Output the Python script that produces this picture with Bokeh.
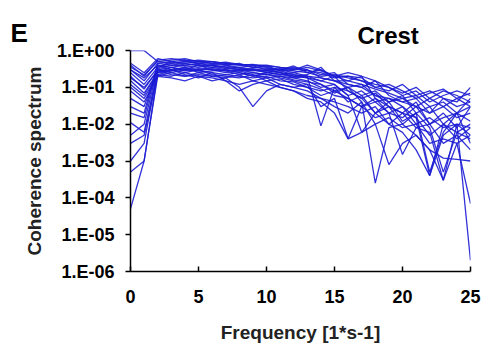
from bokeh.plotting import figure
from bokeh.models import Range1d, FixedTicker, CustomJSTickFormatter, Label, ColumnDataSource
from bokeh.embed import file_html
from bokeh.resources import INLINE

# Frequency points (1/s)
freq = list(range(26))
x_ticks = [0, 5, 10, 15, 20, 25]
y_ticks = [1e-6, 1e-5, 1e-4, 1e-3, 1e-2, 1e-1, 1.0]

# Coherence spectra, one list per recording
s01 = [1.0, 1.0, 0.5, 0.45, 0.5, 0.55, 0.5, 0.45, 0.42, 0.4, 0.38, 0.35, 0.3, 0.35, 0.28, 0.2, 0.15, 0.12, 0.09, 0.07, 0.05, 0.06, 0.03, 0.04, 0.02, 0.03]
s02 = [0.4, 0.2, 0.55, 0.6, 0.55, 0.5, 0.5, 0.45, 0.4, 0.42, 0.35, 0.3, 0.38, 0.25, 0.3, 0.2, 0.2, 0.18, 0.1, 0.08, 0.12, 0.06, 0.08, 0.05, 0.04, 0.1]
s03 = [0.3, 0.15, 0.45, 0.4, 0.45, 0.38, 0.4, 0.35, 0.3, 0.32, 0.28, 0.25, 0.2, 0.22, 0.35, 0.15, 0.1, 0.12, 0.06, 0.04, 0.05, 0.03, 0.02, 0.05, 0.03, 0.04]
s04 = [0.25, 0.12, 0.35, 0.5, 0.4, 0.42, 0.35, 0.38, 0.33, 0.3, 0.25, 0.28, 0.22, 0.18, 0.15, 0.2, 0.08, 0.05, 0.07, 0.03, 0.02, 0.04, 0.01, 0.02, 0.008, 0.03]
s05 = [0.2, 0.09, 0.3, 0.35, 0.3, 0.4, 0.3, 0.28, 0.3, 0.25, 0.22, 0.2, 0.18, 0.15, 0.1, 0.12, 0.06, 0.08, 0.04, 0.05, 0.03, 0.01, 0.015, 0.008, 0.01, 0.005]
s06 = [0.15, 0.07, 0.25, 0.3, 0.35, 0.25, 0.28, 0.3, 0.25, 0.2, 0.23, 0.18, 0.15, 0.12, 0.09, 0.06, 0.05, 0.03, 0.05, 0.02, 0.03, 0.015, 0.005, 0.01, 0.006, 0.01]
s07 = [0.1, 0.05, 0.22, 0.2, 0.25, 0.3, 0.22, 0.2, 0.18, 0.22, 0.15, 0.17, 0.12, 0.1, 0.08, 0.1, 0.04, 0.06, 0.02, 0.03, 0.01, 0.02, 0.0005, 0.006, 0.02, 0.003]
s08 = [0.08, 0.04, 0.2, 0.18, 0.15, 0.2, 0.18, 0.15, 0.12, 0.15, 0.12, 0.1, 0.08, 0.06, 0.05, 0.03, 0.02, 0.04, 0.01, 0.015, 0.008, 0.01, 0.003, 0.004, 0.003, 0.00007]
s09 = [0.3, 0.18, 0.4, 0.3, 0.25, 0.2, 0.15, 0.18, 0.1, 0.03, 0.08, 0.12, 0.1, 0.08, 0.05, 0.04, 0.03, 0.02, 0.03, 0.01, 0.02, 0.008, 0.01, 0.003, 0.005, 0.002]
s10 = [0.001, 0.003, 0.3, 0.25, 0.3, 0.28, 0.25, 0.22, 0.2, 0.18, 0.2, 0.15, 0.14, 0.1, 0.06, 0.08, 0.05, 0.03, 0.04, 0.02, 0.015, 0.03, 0.01, 0.015, 0.02, 0.05]
s11 = [0.0005, 0.001, 0.25, 0.35, 0.28, 0.32, 0.3, 0.25, 0.28, 0.22, 0.18, 0.2, 0.16, 0.14, 0.12, 0.07, 0.1, 0.04, 0.00025, 0.008, 0.01, 0.005, 0.002, 0.0012, 0.0011, 0.001]
s12 = [0.00005, 0.001, 0.2, 0.25, 0.2, 0.22, 0.2, 0.18, 0.22, 0.15, 0.18, 0.12, 0.1, 0.12, 0.03, 0.05, 0.004, 0.006, 0.01, 0.0008, 0.003, 0.005, 0.002, 0.0003, 0.01, 0.000002]
s13 = [0.005, 0.01, 0.35, 0.45, 0.5, 0.45, 0.42, 0.4, 0.35, 0.38, 0.3, 0.32, 0.28, 0.25, 0.2, 0.22, 0.18, 0.15, 0.12, 0.1, 0.07, 0.1, 0.05, 0.08, 0.06, 0.04]
s14 = [0.03, 0.02, 0.45, 0.5, 0.45, 0.5, 0.45, 0.42, 0.4, 0.35, 0.33, 0.3, 0.25, 0.3, 0.22, 0.25, 0.12, 0.1, 0.15, 0.06, 0.04, 0.05, 0.02, 0.03, 0.015, 0.02]
s15 = [0.011, 0.006, 0.3, 0.28, 0.35, 0.3, 0.35, 0.3, 0.28, 0.3, 0.26, 0.22, 0.25, 0.2, 0.009, 0.1, 0.08, 0.05, 0.02, 0.01, 0.006, 0.002, 0.0004, 0.005, 0.01, 0.008]
s16 = [0.35, 0.22, 0.5, 0.55, 0.6, 0.5, 0.45, 0.48, 0.42, 0.4, 0.4, 0.35, 0.32, 0.28, 0.25, 0.18, 0.2, 0.15, 0.1, 0.12, 0.08, 0.05, 0.07, 0.09, 0.05, 0.07]
s17 = [0.18, 0.1, 0.28, 0.22, 0.2, 0.25, 0.2, 0.22, 0.25, 0.2, 0.25, 0.22, 0.2, 0.18, 0.12, 0.08, 0.1, 0.06, 0.08, 0.04, 0.06, 0.02, 0.03, 0.01, 0.004, 0.008]
s18 = [0.12, 0.06, 0.25, 0.3, 0.22, 0.18, 0.25, 0.15, 0.08, 0.12, 0.15, 0.1, 0.08, 0.05, 0.04, 0.02, 0.004, 0.03, 0.015, 0.02, 0.0015, 0.008, 0.006, 0.0003, 0.003, 0.005]
s19 = [0.05, 0.03, 0.32, 0.4, 0.38, 0.35, 0.4, 0.35, 0.3, 0.28, 0.3, 0.25, 0.22, 0.2, 0.18, 0.15, 0.12, 0.1, 0.06, 0.05, 0.04, 0.03, 0.05, 0.03, 0.05, 0.03]
s20 = [0.02, 0.015, 0.4, 0.35, 0.4, 0.45, 0.38, 0.32, 0.35, 0.3, 0.28, 0.3, 0.35, 0.3, 0.18, 0.15, 0.15, 0.2, 0.05, 0.03, 0.02, 0.015, 0.0004, 0.01, 0.02, 0.012]
s21 = [0.003, 0.005, 0.22, 0.28, 0.32, 0.28, 0.32, 0.28, 0.22, 0.25, 0.22, 0.25, 0.18, 0.2, 0.15, 0.12, 0.06, 0.006, 0.02, 0.04, 0.012, 0.02, 0.008, 0.0005, 0.006, 0.004]
s22 = [0.45, 0.25, 0.6, 0.5, 0.55, 0.45, 0.5, 0.4, 0.45, 0.35, 0.38, 0.28, 0.3, 0.4, 0.3, 0.2, 0.25, 0.2, 0.15, 0.1, 0.06, 0.08, 0.04, 0.06, 0.08, 0.06]

series = [s01, s02, s03, s04, s05, s06, s07, s08, s09, s10, s11,
          s12, s13, s14, s15, s16, s17, s18, s19, s20, s21, s22]

FONT = "Liberation Sans"

p = figure(width=484, height=348, y_axis_type="log",
           x_range=Range1d(0, 25), y_range=Range1d(1e-6, 1.0),
           output_backend="svg", toolbar_location=None,
           min_border_left=130, min_border_right=14,
           min_border_top=50, min_border_bottom=77)
p.outline_line_color = None
p.xgrid.visible = False
p.ygrid.visible = False

src = ColumnDataSource(dict(xs=[freq] * len(series), ys=series))
p.multi_line("xs", "ys", source=src, line_color="#1c1cd4", line_width=1.3, line_alpha=0.9)

# axes
p.xaxis.ticker = FixedTicker(ticks=x_ticks, minor_ticks=[])
p.yaxis.ticker = FixedTicker(ticks=y_ticks, minor_ticks=[])
p.yaxis.formatter = CustomJSTickFormatter(code="""
const e = Math.round(Math.log10(tick));
const s = e < 0 ? '-' : '+';
const a = Math.abs(e);
return '1.E' + s + (a < 10 ? '0' : '') + a;
""")
for ax in (p.xaxis, p.yaxis):
    ax.axis_line_color = "black"
    ax.axis_line_width = 1.5
    ax.major_tick_line_color = "black"
    ax.major_tick_line_width = 1.5
    ax.major_label_text_font = FONT
    ax.major_label_text_font_style = "bold"
    ax.major_label_text_font_size = "18px"
    ax.major_label_text_color = "black"
    ax.axis_label_text_font = FONT
    ax.axis_label_text_font_style = "bold"
    ax.axis_label_text_font_size = "19px"
    ax.axis_label_text_color = "#222222"
    ax.minor_tick_line_color = None

p.xaxis.major_tick_in = 5
p.xaxis.major_tick_out = 0
p.xaxis.major_label_standoff = 18
p.xaxis.axis_label = "Frequency [1*s-1]"
p.xaxis.axis_label_standoff = 16

p.yaxis.major_tick_in = 0
p.yaxis.major_tick_out = 5
p.yaxis.major_label_standoff = 11
p.yaxis.axis_label = "Coherence spectrum"
p.yaxis.axis_label_standoff = 9

# panel letters and title (canvas coordinates, placed in side panels with spare room
# so they are not clipped to the plot frame)
def add_text(txt, cx, cy, size, side):
    p.add_layout(Label(x=cx, y=cy, x_units="canvas", y_units="canvas", text=txt,
                       text_font=FONT, text_font_style="bold", text_font_size=size,
                       text_color="black", text_baseline="alphabetic"), side)

add_text("E", 10, 32, "26px", "left")
add_text("Crest", 357, 35, "24px", "above")
add_text("F", 18, 361, "22px", "right")

open("out.html", "w").write(file_html(p, INLINE))
